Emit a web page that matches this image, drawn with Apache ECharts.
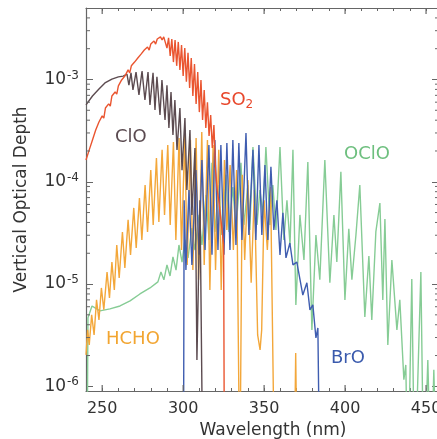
<!DOCTYPE html>
<html><head><meta charset="utf-8">
<script src="https://cdn.jsdelivr.net/npm/echarts@6/dist/echarts.min.js"></script>
<style>html,body{margin:0;padding:0;background:#fff}#c{width:437px;height:439px}</style>
</head><body><div id="c"></div>
<script>
// axis ranges and ticks
const X_MIN = 240, X_MAX = 458, Y_MIN = 9e-7, Y_MAX = 5e-3;
const xMajorTicks = [250, 300, 350, 400, 450];
const yMinorTicks = [2e-6,3e-6,4e-6,5e-6,6e-6,7e-6,8e-6,9e-6,2e-5,3e-5,4e-5,5e-5,6e-5,7e-5,8e-5,9e-5,
  2e-4,3e-4,4e-4,5e-4,6e-4,7e-4,8e-4,9e-4,2e-3,3e-3,4e-3];

// [wavelength nm, vertical optical depth]
const so2 = [[240,1.63e-4],[242,2.05e-4],[243,1.96e-4],[244,2.56e-4],[246,3.21e-4],[247,3.1e-4],[248,3.84e-4],[250,4.4e-4],[251,4.2e-4],[252,5.26e-4],
  [254,5.77e-4],[255,5.5e-4],[256,6.9e-4],[258,7.55e-4],[259,7.2e-4],[260,8.65e-4],[262,9.9e-4],[263,9.5e-4],[264,1.08e-3],[266,1.24e-3],
  [267,1.16e-3],[268,1.36e-3],[270,1.48e-3],[271,1.42e-3],[272,1.62e-3],[274,1.77e-3],[275,1.70e-3],[276,1.94e-3],[278,2.08e-3],[279,1.94e-3],
  [280,2.22e-3],[282,2.38e-3],[283,2.22e-3],[284,2.49e-3],[286,2.61e-3],[287,2.43e-3],[288,2.61e-3],
  [289,2.61e-3],[290,2.03e-3],[291,2.55e-3],[292,1.70e-3],[293,2.49e-3],[294,1.48e-3],[295,2.43e-3],[296,1.36e-3],[297,2.33e-3],[298,1.24e-3],
  [299,2.17e-3],[300,1.08e-3],[301,2.03e-3],[302,9.5e-4],[303,1.82e-3],[304,8.26e-4],[305,1.62e-3],[306,6.9e-4],[307,1.42e-3],[308,5.77e-4],
  [309,1.18e-3],[310,4.8e-4],[311,9.9e-4],[312,4.02e-4],[313,7.9e-4],[314,3.36e-4],[315,6.0e-4],[316,2.81e-4],[317,4.5e-4],[318,2.14e-4],
  [319,3.59e-4],[320,1.30e-4],[321,8.3e-5],[322,6.6e-5],[323,4.74e-5],[324,3.38e-5],[325,2.41e-5],[325.5,1e-7]];

const clo = [[240,5.64e-4],[244,6.9e-4],[248,8.07e-4],[251.7,9.25e-4],[256,1.01e-3],[260,1.06e-3],[263,1.08e-3],[265.3,1.13e-3],[266.5,8.8e-4],
  [267.8,1.16e-3],[269,7.9e-4],[270.9,1.18e-3],[272.7,7.06e-4],[274.6,1.21e-3],[276.4,6.3e-4],[278.3,1.18e-3],[279.5,5.64e-4],[281.4,1.16e-3],
  [282.6,5.03e-4],[283.8,1.06e-3],[285.7,4.5e-4],[286.9,9.9e-4],[288.8,4.02e-4],[290,8.8e-4],[291.2,3.36e-4],[292.5,7.55e-4],[293.7,2.87e-4],
  [294.9,6.3e-4],[296.2,2.05e-4],[298,5.26e-4],[299.3,1.30e-4],[301.1,4.2e-4],[302.3,8.3e-5],[304.2,3.21e-4],[305.4,4.74e-5],[307.3,2.14e-4],
  [308.5,1.81e-6],[310.4,6.6e-5],[312.2,1e-7]];

const hcho = [[240,2.03e-6],[241,3.56e-6],[242,2.54e-6],[243.5,5.0e-6],[245,3.18e-6],[246.5,7.0e-6],[248,4.46e-6],[249.5,9.16e-6],[251,5.6e-6],
  [253,1.31e-5],[254.5,7.3e-6],[256,1.64e-5],[257.5,8.75e-6],[259,2.41e-5],[260.5,1.15e-5],[262.5,3.23e-5],[264,1.44e-5],[266,4.24e-5],
  [267.5,1.93e-5],[269.5,5.55e-5],[271,2.25e-5],[273,6.95e-5],[274.5,2.70e-5],[276.5,9.3e-5],[278,3.23e-5],[280,1.30e-4],[281.5,3.79e-5],
  [283.5,1.71e-4],[285,4.05e-5],[287,2.05e-4],[288.5,4.74e-5],[290.5,2.29e-4],[292,3.79e-5],[294,2.45e-4],[295.5,2.70e-5],[297.5,2.68e-4],
  [299,2.15e-5],[301,2.87e-4],[302.5,1.54e-5],[304.5,2.56e-4],[306,1.37e-5],[308,2.68e-4],[309.5,1.10e-5],[311.5,3.07e-4],[313,1.54e-5],
  [315,2.56e-4],[316.5,8.75e-6],[318.5,2.29e-4],[320,1.37e-5],[322,2.05e-4],[323.5,8.75e-6],[325.5,1.63e-4],[327,3.38e-5],[329,1.46e-4],
  [331,2.15e-5],[333,1.30e-4],[335,1e-7],[336.5,1.17e-4],[338,1.72e-5],[340,1.04e-4],[342,1.03e-5],[344,8.3e-5],[346,3.18e-6],[347.5,2.27e-6],
  [348.5,3.56e-6],[350,6.6e-5],[352,2.15e-5],[354,8.9e-5],[356.5,1e-7],[368.5,1e-7],[369.5,2.12e-6],[370.5,1e-7]];

const bro = [[300.2,1e-7],[300.6,6.6e-5],[301.7,1.37e-5],[303.6,8.3e-5],[305.4,1.54e-5],[307.9,1.30e-4],[309.8,1.93e-5],[311.6,1.63e-4],
  [313.5,2.15e-5],[315.9,2.29e-4],[317.8,1.93e-5],[319.6,2.56e-4],[321.5,2.15e-5],[323.3,2.29e-4],[325.2,1.93e-5],[327,2.39e-4],[328.9,2.15e-5],
  [330.7,2.56e-4],[332.6,2.41e-5],[334.4,2.39e-4],[336.3,2.70e-5],[338.8,3.0e-4],[340.6,3.02e-5],[343.1,2.05e-4],[344.9,2.70e-5],[346.8,2.29e-4],
  [348.6,3.02e-5],[350.5,1.46e-4],[352.3,2.70e-5],[354.2,1.40e-4],[356,3.38e-5],[357.9,6.6e-5],[359.8,1.93e-5],[361.6,4.96e-5],[363.5,1.80e-5],
  [365.9,2.52e-5],[367.8,1.54e-5],[370.2,1.64e-5],[373.9,7.8e-6],[376.4,1.03e-5],[378.3,5.6e-6],[380.1,6.25e-6],[382,2.97e-6],[383.2,3.72e-6],
  [384.4,1e-7]];

const oclo = [[240.6,1e-7],[241.2,4.67e-6],[243.7,6.1e-6],[245.6,5.84e-6],[248.6,5.46e-6],[254.8,5.71e-6],[261,6.1e-6],[267.2,6.84e-6],[273.3,8.0e-6],
  [279.5,9.16e-6],[284.4,1.05e-5],[286.3,1.31e-5],[288.1,1.10e-5],[290,1.54e-5],[291.9,1.20e-5],[293.7,1.84e-5],[295.6,1.37e-5],[297.4,2.41e-5],
  [299.3,1.64e-5],[301.1,2.70e-5],[303,1.80e-5],[305.4,3.53e-5],[307.3,2.15e-5],[309.8,4.74e-5],[311.6,2.41e-5],[314.1,7.4e-5],[316,2.70e-5],
  [317.8,1.53e-4],[319.6,3.23e-5],[322.1,9.3e-5],[323.9,3.02e-5],[326.4,1.17e-4],[328.3,3.23e-5],[330.7,8.9e-5],[332.6,3.38e-5],[335.7,1.53e-4],
  [337.5,3.79e-5],[340,9.3e-5],[341.2,3.38e-5],[343.1,2.19e-4],[345.6,3.79e-5],[347.4,8.3e-5],[349.3,4.74e-5],[351.1,2.19e-4],[353.6,3.79e-5],
  [355.4,9.3e-5],[357.3,3.38e-5],[359.8,2.19e-4],[362.2,2.70e-5],[364.1,6.6e-5],[366,2.41e-5],[367.8,2.05e-4],[369.6,6.25e-6],[372.1,4.74e-5],
  [374.6,1.72e-5],[377,1.56e-4],[379.5,3.56e-6],[382,3.02e-5],[384.4,1.10e-5],[387.5,1.63e-4],[390.6,1.03e-5],[393.1,4.74e-5],[394.9,1.64e-5],
  [397.4,1.25e-4],[399.9,7.0e-6],[402.3,3.46e-5],[404.2,1.10e-5],[406.7,3.02e-5],[409.1,9.3e-5],[412.2,4.77e-6],[414.7,1.88e-5],[416.5,4.46e-6],
  [419,3.23e-5],[421.5,6.2e-5],[423.3,7.0e-6],[424.6,4.33e-5],[426.4,2.54e-6],[428.9,1.72e-5],[432,3.56e-6],[433.8,7.0e-6],[436.3,1.16e-6],
  [437.5,1.62e-6],[438.8,1e-7],[441.2,1.12e-5],[443,1e-7],[446.8,1.31e-5],[448.6,1e-7],[451.1,1.81e-6],[453,1e-7],[454.8,1.45e-6],[456.7,1e-7]];

const FONT = 'DejaVu Sans';
const AX = '#666666';
const TXT = '#333333';

function lineSeries(name, data, color, z) {
  return { name, type: 'line', data, showSymbol: false, symbol: 'none', z,
    lineStyle: { color, width: 1.4 }, clip: true, animation: false };
}

const chart = echarts.init(document.getElementById('c'), null, { renderer: 'canvas' });
chart.setOption({
  animation: false,
  backgroundColor: '#fff',
  grid: { left: 86, top: 8, right: -2, bottom: 48, containLabel: false, outerBoundsMode: 'none' },
  xAxis: [
    { type: 'value', min: X_MIN, max: X_MAX, interval: 10, position: 'bottom',
      axisLine: { lineStyle: { color: AX, width: 1.2 } },
      axisTick: { inside: true, length: 3, lineStyle: { color: AX } },
      axisLabel: { formatter: v => xMajorTicks.includes(v) ? String(v) : '', color: TXT, fontSize: 16, fontFamily: FONT, margin: 10, showMaxLabel: false },
      splitLine: { show: false },
      name: 'Wavelength (nm)', nameLocation: 'middle', nameGap: 29,
      nameTextStyle: { color: TXT, fontSize: 17, fontFamily: FONT, padding: [0, 0, 0, 21] } },
    { type: 'value', min: X_MIN, max: X_MAX, interval: 10, position: 'top',
      axisLine: { lineStyle: { color: AX, width: 1.2 } },
      axisTick: { inside: true, length: 3, lineStyle: { color: AX } },
      axisLabel: { show: false }, splitLine: { show: false } }
  ],
  yAxis: [
    { type: 'log', logBase: 10, min: Y_MIN, max: Y_MAX, position: 'left',
      axisLine: { lineStyle: { color: AX, width: 1.2 } },
      axisTick: { inside: true, length: 7, lineStyle: { color: AX } },
      axisLabel: { showMinLabel: false, showMaxLabel: false, margin: 7,
        formatter: v => { const l = Math.log10(v); const e = Math.round(l); return Math.abs(l - e) < 1e-6 ? '{b|10}{s|' + e + '}' : ''; },
        rich: { b: { fontSize: 17, fontFamily: FONT, color: TXT, lineHeight: 20 },
                s: { fontSize: 12, fontFamily: FONT, color: TXT, verticalAlign: 'top', lineHeight: 20, padding: [0, 0, 0, 1] } } },
      splitLine: { show: false },
      name: 'Vertical Optical Depth', nameLocation: 'middle', nameGap: 56,
      nameTextStyle: { color: TXT, fontSize: 17, fontFamily: FONT } },
    { type: 'log', logBase: 10, min: Y_MIN, max: Y_MAX, position: 'right',
      axisLine: { lineStyle: { color: AX, width: 1.2 } },
      axisTick: { inside: true, length: 7, lineStyle: { color: AX } },
      axisLabel: { show: false }, splitLine: { show: false } }
  ],
  series: [
    lineSeries('OClO', oclo, '#86cc95', 2),
    lineSeries('HCHO', hcho, '#f3a73a', 3),
    lineSeries('BrO', bro, '#3f5db0', 4),
    lineSeries('ClO', clo, '#5c4b50', 5),
    lineSeries('SO2', so2, '#ea5530', 6),
    { type: 'custom', silent: true, clip: false, z: 10,
      data: yMinorTicks.map(v => [X_MIN, v]),
      renderItem: (params, api) => {
        const p = api.coord([X_MIN, api.value(1)]);
        const q = api.coord([X_MAX, api.value(1)]);
        return { type: 'group', children: [
          { type: 'line', shape: { x1: p[0], y1: p[1], x2: p[0] + 4, y2: p[1] }, style: { stroke: AX, lineWidth: 1 } },
          { type: 'line', shape: { x1: q[0], y1: q[1], x2: q[0] - 4, y2: q[1] }, style: { stroke: AX, lineWidth: 1 } }
        ] };
      } },
    { type: 'custom', silent: true, clip: false, z: 10,
      data: xMajorTicks.map(v => [v, Y_MIN]),
      renderItem: (params, api) => {
        const p = api.coord([api.value(0), Y_MIN]);
        const q = api.coord([api.value(0), Y_MAX]);
        return { type: 'group', children: [
          { type: 'line', shape: { x1: p[0], y1: p[1], x2: p[0], y2: p[1] - 6 }, style: { stroke: AX, lineWidth: 1.2 } },
          { type: 'line', shape: { x1: q[0], y1: q[1], x2: q[0], y2: q[1] + 6 }, style: { stroke: AX, lineWidth: 1.2 } }
        ] };
      } }
  ],
  graphic: [
    { type: 'text', x: 220, y: 100, style: { text: '{a|SO}{b|2}', textVerticalAlign: 'middle',
      rich: { a: { fontSize: 18, fontFamily: FONT, fill: '#e8472b', lineHeight: 22 }, b: { fontSize: 12, fontFamily: FONT, fill: '#e8472b', verticalAlign: 'bottom', lineHeight: 22 } } } },
    { type: 'text', x: 115, y: 137, style: { text: 'ClO', fill: '#5a4a50', font: '18px "DejaVu Sans"', textVerticalAlign: 'middle' } },
    { type: 'text', x: 344, y: 154, style: { text: 'OClO', fill: '#6dbf7e', font: '18px "DejaVu Sans"', textVerticalAlign: 'middle' } },
    { type: 'text', x: 106, y: 339, style: { text: 'HCHO', fill: '#f2a531', font: '18px "DejaVu Sans"', textVerticalAlign: 'middle' } },
    { type: 'text', x: 331, y: 358, style: { text: 'BrO', fill: '#3a5aad', font: '18px "DejaVu Sans"', textVerticalAlign: 'middle' } }
  ]
});
</script></body></html>
